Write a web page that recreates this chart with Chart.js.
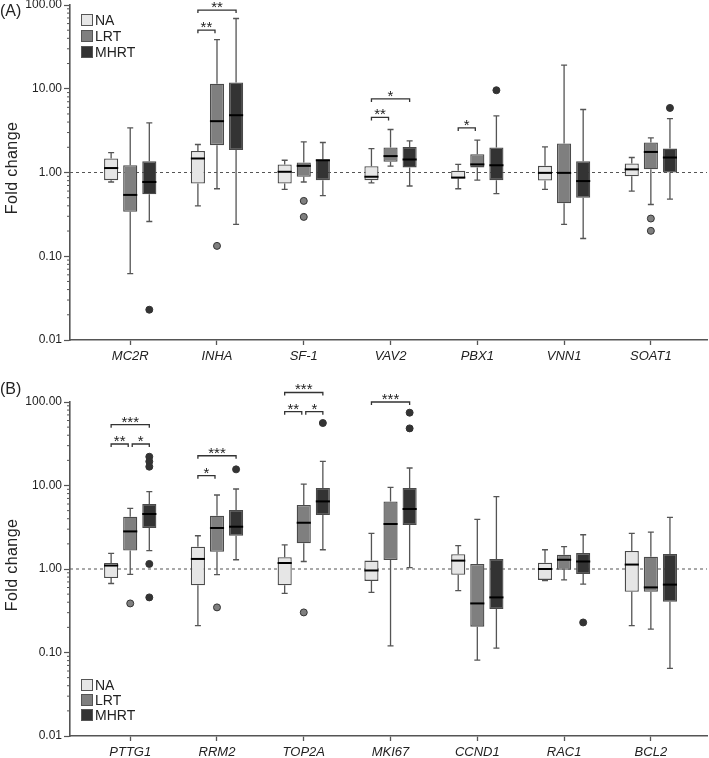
<!DOCTYPE html>
<html>
<head>
<meta charset="utf-8">
<script src="https://cdn.jsdelivr.net/npm/chart.js@4"></script>
<style>
  body { margin: 0; background: #fff; font-family: "Liberation Sans", Arial, sans-serif; color: #222; }
  #wrap { position: relative; width: 709px; height: 758px; overflow: hidden; }
  canvas { position: absolute; left: 0; }
  #chartA { top: 0; }
  #chartB { top: 370px; }
  .lab { position: absolute; left: 0; font-size: 16px; line-height: 18px; }
  .ytitle { position: absolute; left: 12px; font-size: 16px; letter-spacing: 0.4px; white-space: nowrap; transform: translate(-50%, -50%) rotate(-90deg); }
  .leg { position: absolute; font-size: 14px; }
  .leg div { display: flex; align-items: center; }
  .leg span { display: inline-block; width: 10px; height: 10px; border: 1.5px solid #555; margin-right: 2px; }
</style>
</head>
<body>
<div id="wrap">
  <canvas id="chartA" width="709" height="370"></canvas>
  <canvas id="chartB" width="709" height="388"></canvas>
  <div class="lab" style="top:2px">(A)</div>
  <div class="lab" style="top:380px">(B)</div>
  <div class="ytitle" style="top:168px">Fold change</div>
  <div class="ytitle" style="top:565px">Fold change</div>
  <div class="leg" id="legA" style="left:81px;top:12px"></div>
  <div class="leg" id="legB" style="left:81px;top:677px"></div>
</div>
<script>
// groups and y ticks
const groups = ['NA', 'LRT', 'MHRT'];
const yTicks = [0.01, 0.1, 1, 10, 100];

// panel A genes, each box = [whisker low, Q1, median, Q3, whisker high]
const genesA = ['MC2R', 'INHA', 'SF-1', 'VAV2', 'PBX1', 'VNN1', 'SOAT1'];
const naA = [
  [0.77, 0.81, 1.13, 1.47, 1.73], [0.40, 0.74, 1.47, 1.81, 2.16], [0.63, 0.74, 1.02, 1.25, 1.40],
  [0.75, 0.81, 0.89, 1.19, 1.93], [0.64, 0.85, 0.87, 1.05, 1.25], [0.63, 0.80, 0.99, 1.20, 2.02],
  [0.60, 0.90, 1.09, 1.28, 1.51]
];
const lrtA = [
  [0.062, 0.34, 0.54, 1.22, 3.41], [0.64, 2.12, 4.1, 11.5, 38.7], [0.77, 0.89, 1.2, 1.32, 2.32],
  [1.19, 1.34, 1.57, 1.99, 3.26], [0.81, 1.15, 1.25, 1.65, 2.43], [0.24, 0.43, 0.99, 2.22, 19.1],
  [0.415, 1.09, 1.76, 2.28, 2.59]
];
const mhrtA = [
  [0.26, 0.55, 0.77, 1.36, 3.91], [0.24, 1.85, 4.83, 11.9, 69], [0.53, 0.81, 1.40, 1.43, 2.28],
  [0.69, 1.15, 1.43, 2.02, 2.38], [0.56, 0.81, 1.22, 1.99, 4.74], [0.163, 0.50, 0.79, 1.36, 5.65],
  [0.48, 1.0, 1.51, 1.93, 4.41]
];
// [gene index, group index, value]
const outA = [[0, 2, 0.023], [1, 1, 0.133], [2, 1, 0.458], [2, 1, 0.295], [4, 2, 9.6],
  [6, 1, 0.282], [6, 1, 0.201], [6, 2, 5.9]];
// [gene index, from group, to group, bracket level, label]
const sigA = [[1, 0, 1, 50, '**'], [1, 0, 2, 87, '**'], [3, 0, 1, 4.54, '**'], [3, 0, 2, 7.57, '*'],
  [4, 0, 1, 3.41, '*']];

// panel B
const genesB = ['PTTG1', 'RRM2', 'TOP2A', 'MKI67', 'CCND1', 'RAC1', 'BCL2'];
const naB = [
  [0.67, 0.78, 1.10, 1.18, 1.54], [0.21, 0.64, 1.32, 1.85, 2.5], [0.51, 0.64, 1.18, 1.38, 1.95],
  [0.525, 0.72, 0.96, 1.26, 2.67], [0.55, 0.855, 1.26, 1.50, 1.90], [0.725, 0.74, 1.0, 1.19, 1.70],
  [0.21, 0.535, 1.13, 1.64, 2.67]
];
const lrtB = [
  [0.86, 1.66, 2.82, 4.23, 5.32], [0.855, 1.61, 3.1, 4.35, 7.7], [1.23, 2.03, 3.58, 5.84, 10.4],
  [0.12, 1.28, 3.46, 6.45, 9.49], [0.081, 0.204, 0.387, 1.15, 3.93], [0.74, 0.98, 1.29, 1.48, 1.85],
  [0.191, 0.535, 0.602, 1.40, 2.77]
];
const mhrtB = [
  [1.66, 3.1, 4.56, 6.0, 8.43], [1.29, 2.5, 3.21, 5.09, 9.08], [1.70, 4.43, 6.45, 9.33, 19.4],
  [1.04, 3.37, 5.23, 9.33, 16.2], [0.113, 0.332, 0.457, 1.32, 7.34], [0.66, 0.87, 1.23, 1.55, 2.57],
  [0.0645, 0.406, 0.65, 1.51, 4.15]
];
const outB = [[0, 1, 0.387], [0, 2, 22.1], [0, 2, 19.4], [0, 2, 16.8], [0, 2, 1.15], [0, 2, 0.457],
  [1, 1, 0.347], [1, 2, 15.6], [2, 1, 0.302], [2, 2, 56], [3, 2, 74.5], [3, 2, 48.3], [5, 2, 0.229]];
const sigB = [[0, 0, 1, 31.4, '**'], [0, 1, 2, 31.4, '*'], [0, 0, 2, 53.5, '***'],
  [1, 0, 1, 13.1, '*'], [1, 0, 2, 22.7, '***'],
  [2, 0, 1, 76.5, '**'], [2, 1, 2, 76.5, '*'], [2, 0, 2, 130, '***'],
  [3, 0, 2, 100, '***']];

const fills = ['#e6e6e6', '#7f7f7f', '#333333'];
const FONT = '"Liberation Sans", Arial, sans-serif';
Chart.defaults.font.family = FONT;
Chart.defaults.color = '#222';

const isMajor = v => Math.abs(Math.log10(v) - Math.round(Math.log10(v))) < 1e-6;

function extras(outliers, sig) {
  return {
    id: 'boxExtras',
    beforeDatasetsDraw(chart) {
      const { ctx, chartArea, scales: { y } } = chart;
      ctx.save();
      // dashed line at fold change 1
      const y1 = y.getPixelForValue(1);
      ctx.strokeStyle = '#555';
      ctx.lineWidth = 1;
      ctx.setLineDash([3, 3]);
      ctx.beginPath();
      ctx.moveTo(chartArea.left, y1);
      ctx.lineTo(chartArea.right, y1);
      ctx.stroke();
      ctx.setLineDash([]);
      // whiskers
      ctx.strokeStyle = '#555';
      ctx.lineWidth = 1.3;
      chart.data.datasets.forEach((ds, d) => {
        chart.getDatasetMeta(d).data.forEach((bar, i) => {
          const s = ds.stats[i];
          const lo = y.getPixelForValue(s[0]), q1 = y.getPixelForValue(s[1]);
          const q3 = y.getPixelForValue(s[3]), hi = y.getPixelForValue(s[4]);
          ctx.beginPath();
          ctx.moveTo(bar.x, lo); ctx.lineTo(bar.x, q1);
          ctx.moveTo(bar.x, q3); ctx.lineTo(bar.x, hi);
          ctx.moveTo(bar.x - 3, lo); ctx.lineTo(bar.x + 3, lo);
          ctx.moveTo(bar.x - 3, hi); ctx.lineTo(bar.x + 3, hi);
          ctx.stroke();
        });
      });
      ctx.restore();
    },
    afterDatasetsDraw(chart) {
      const { ctx, chartArea, scales: { y } } = chart;
      ctx.save();
      // medians
      ctx.strokeStyle = '#000';
      ctx.lineWidth = 2;
      chart.data.datasets.forEach((ds, d) => {
        chart.getDatasetMeta(d).data.forEach((bar, i) => {
          const m = y.getPixelForValue(ds.stats[i][2]);
          ctx.beginPath();
          ctx.moveTo(bar.x - bar.width / 2, m);
          ctx.lineTo(bar.x + bar.width / 2, m);
          ctx.stroke();
        });
      });
      // outliers
      outliers.forEach(([g, k, v]) => {
        const bar = chart.getDatasetMeta(k).data[g];
        ctx.beginPath();
        ctx.arc(bar.x, y.getPixelForValue(v), 3.5, 0, Math.PI * 2);
        ctx.fillStyle = fills[k];
        ctx.fill();
        ctx.strokeStyle = '#333';
        ctx.lineWidth = 1;
        ctx.stroke();
      });
      // significance brackets
      ctx.strokeStyle = '#333';
      ctx.fillStyle = '#222';
      ctx.lineWidth = 1.3;
      ctx.font = '15px ' + FONT;
      ctx.textAlign = 'center';
      ctx.textBaseline = 'alphabetic';
      sig.forEach(([g, a, b, lvl, txt]) => {
        let x1 = chart.getDatasetMeta(a).data[g].x;
        let x2 = chart.getDatasetMeta(b).data[g].x;
        if (a === 1) x1 += 2;
        if (b === 1) x2 -= 2;
        const py = y.getPixelForValue(lvl);
        ctx.beginPath();
        ctx.moveTo(x1, py + 3); ctx.lineTo(x1, py); ctx.lineTo(x2, py); ctx.lineTo(x2, py + 3);
        ctx.stroke();
        ctx.fillText(txt, (x1 + x2) / 2, py + 2);
      });
      // minor ticks on y axis
      ctx.strokeStyle = '#555';
      ctx.lineWidth = 1;
      y.ticks.forEach(t => {
        if (isMajor(t.value)) return;
        const p = y.getPixelForValue(t.value);
        ctx.beginPath();
        ctx.moveTo(chartArea.left - 3, p);
        ctx.lineTo(chartArea.left, p);
        ctx.stroke();
      });
      ctx.restore();
    }
  };
}

function makeChart(id, genes, na, lrt, mhrt, outliers, sig, padTop, xHeight) {
  const series = [na, lrt, mhrt];
  new Chart(document.getElementById(id), {
    type: 'bar',
    data: {
      datasets: series.map((s, k) => ({
        label: groups[k],
        stats: s,
        data: s.map((b, i) => ({ x: i, y: [b[1], b[3]] })),
        backgroundColor: fills[k],
        borderColor: '#4a4a4a',
        borderWidth: 1.3,
        borderSkipped: false,
        categoryPercentage: 0.66,
        barPercentage: 0.74
      }))
    },
    options: {
      responsive: false,
      animation: false,
      layout: { padding: { top: padTop, right: 2, left: 0, bottom: 0 } },
      plugins: { legend: { display: false }, tooltip: { enabled: false } },
      scales: {
        x: {
          type: 'linear',
          offset: false,
          min: -0.694,
          max: 6.647,
          afterBuildTicks: sc => { sc.ticks = genes.map((g, i) => ({ value: i })); },
          afterFit: sc => { sc.height = xHeight; sc.paddingLeft = 0; sc.paddingRight = 0; },
          ticks: {
            autoSkip: false,
            maxRotation: 0,
            padding: 4,
            font: { size: 13, style: 'italic' },
            callback: v => genes[v]
          },
          grid: { offset: false, drawOnChartArea: false, tickLength: 5, tickColor: '#555', tickWidth: 1.3 },
          border: { color: '#555', width: 1.6 }
        },
        y: {
          type: 'logarithmic',
          min: yTicks[0],
          max: yTicks[yTicks.length - 1],
          afterBuildTicks: sc => {
            const t = [];
            for (let d = 0; d < yTicks.length - 1; d++) {
              for (let m = 1; m < 10; m++) t.push({ value: yTicks[d] * m });
            }
            t.push({ value: yTicks[yTicks.length - 1] });
            sc.ticks = t;
          },
          afterFit: sc => { sc.width = 70; sc.paddingTop = 0; sc.paddingBottom = 0; },
          ticks: {
            autoSkip: false,
            padding: 2,
            font: { size: 12 },
            callback: v => isMajor(v) ? v.toFixed(2) : ''
          },
          grid: {
            drawOnChartArea: false,
            tickLength: 6,
            tickWidth: 1.2,
            tickColor: c => (c.tick && isMajor(c.tick.value)) ? '#555' : 'rgba(0,0,0,0)'
          },
          border: { color: '#555', width: 1.6 }
        }
      }
    },
    plugins: [extras(outliers, sig)]
  });
}

makeChart('chartA', genesA, naA, lrtA, mhrtA, outA, sigA, 5, 30);
makeChart('chartB', genesB, naB, lrtB, mhrtB, outB, sigB, 32, 22);

// legends
['legA', 'legB'].forEach((id, p) => {
  const el = document.getElementById(id);
  groups.forEach((g, k) => {
    const row = document.createElement('div');
    row.style.height = (p === 0 ? 16 : 15) + 'px';
    const sw = document.createElement('span');
    sw.style.background = fills[k];
    row.appendChild(sw);
    row.appendChild(document.createTextNode(g));
    el.appendChild(row);
  });
});
</script>
</body>
</html>
